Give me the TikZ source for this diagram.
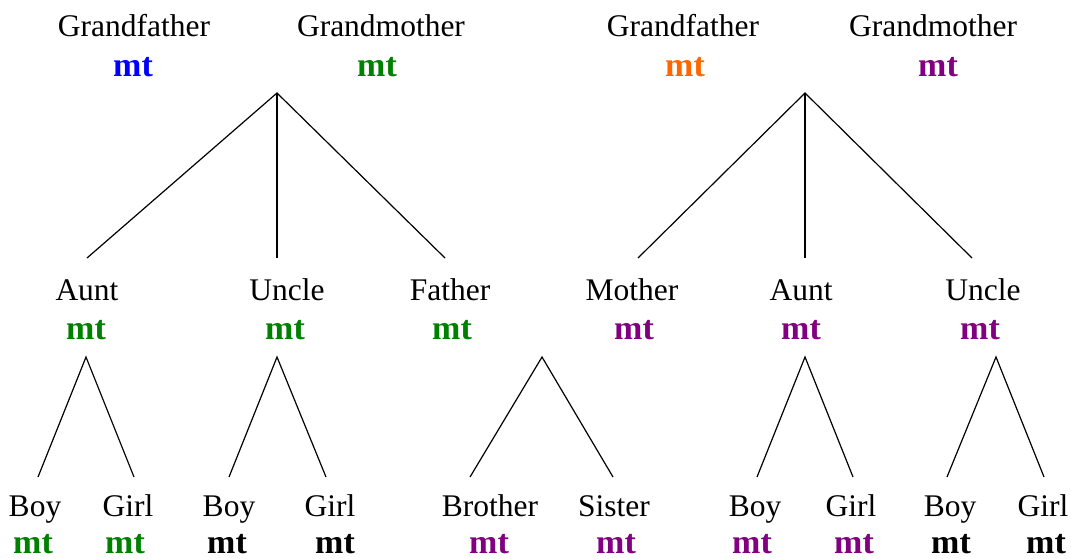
\documentclass[tikz,border=0pt]{standalone}
\usepackage{fontspec}
\setmainfont{Liberation Serif}[BoldFont={Liberation Serif Bold}]
\newfontfamily\mtfont{Liberation Serif Bold}
\definecolor{mtblue}{HTML}{0000FF}
\definecolor{mtgreen}{HTML}{008000}
\definecolor{mtorange}{HTML}{FF6600}
\definecolor{mtpurple}{HTML}{800080}
\begin{document}
\begin{tikzpicture}[x=1pt,y=-1pt,
  person/.style={anchor=base,inner sep=0pt,font=\fontsize{31.5}{36}\selectfont},
  tag/.style={anchor=base,inner sep=0pt,font=\mtfont\fontsize{34}{40}\selectfont},
  link/.style={line width=1.2pt,black}]
\useasboundingbox (0,0) rectangle (1071,558);
% row 1
\node[person] (gf1) at (134,36) {Grandfather};
\node[tag,mtblue] (gf1m) at (133,76) {mt};
\node[person] (gm1) at (381,36) {Grandmother};
\node[tag,mtgreen] (gm1m) at (377,76) {mt};
\node[person] (gf2) at (683,36) {Grandfather};
\node[tag,mtorange] (gf2m) at (685,76) {mt};
\node[person] (gm2) at (933,36) {Grandmother};
\node[tag,mtpurple] (gm2m) at (938,76) {mt};
% row 2
\node[person] (aunt1) at (87,300) {Aunt};
\node[tag,mtgreen] (aunt1m) at (86,339) {mt};
\node[person] (uncle1) at (287,300) {Uncle};
\node[tag,mtgreen] (uncle1m) at (285,339) {mt};
\node[person] (father) at (450,300) {Father};
\node[tag,mtgreen] (fatherm) at (452,339) {mt};
\node[person] (mother) at (632,300) {Mother};
\node[tag,mtpurple] (motherm) at (634,339) {mt};
\node[person] (aunt2) at (801,300) {Aunt};
\node[tag,mtpurple] (aunt2m) at (801,339) {mt};
\node[person] (uncle2) at (983,300) {Uncle};
\node[tag,mtpurple] (uncle2m) at (980,339) {mt};
% row 3
\node[person] (boy1) at (35,516) {Boy};
\node[tag,mtgreen] (boy1m) at (33,553) {mt};
\node[person] (girl1) at (128,516) {Girl};
\node[tag,mtgreen] (girl1m) at (125,553) {mt};
\node[person] (boy2) at (229,516) {Boy};
\node[tag,black] (boy2m) at (227,553) {mt};
\node[person] (girl2) at (330,516) {Girl};
\node[tag,black] (girl2m) at (335,553) {mt};
\node[person] (brother) at (490,516) {Brother};
\node[tag,mtpurple] (brotherm) at (489,553) {mt};
\node[person] (sister) at (614,516) {Sister};
\node[tag,mtpurple] (sisterm) at (616,553) {mt};
\node[person] (boy3) at (755,516) {Boy};
\node[tag,mtpurple] (boy3m) at (752,553) {mt};
\node[person] (girl3) at (851,516) {Girl};
\node[tag,mtpurple] (girl3m) at (854,553) {mt};
\node[person] (boy4) at (950,516) {Boy};
\node[tag,black] (boy4m) at (951,553) {mt};
\node[person] (girl4) at (1043,516) {Girl};
\node[tag,black] (girl4m) at (1046,553) {mt};
% connector points
\coordinate (apexL) at (277,93);
\coordinate (apexR) at (805,93);
\coordinate (aunt1top) at (87,258);
\coordinate (uncle1top) at (277,258);
\coordinate (fathertop) at (445,258);
\coordinate (mothertop) at (638,258);
\coordinate (aunt2top) at (805,258);
\coordinate (uncle2top) at (972,258);
\coordinate (aunt1apex) at (86,357);
\coordinate (uncle1apex) at (277,357);
\coordinate (famapex) at (542,357);
\coordinate (aunt2apex) at (805,357);
\coordinate (uncle2apex) at (996,357);
\coordinate (boy1top) at (38,477);
\coordinate (girl1top) at (134,477);
\coordinate (boy2top) at (229,477);
\coordinate (girl2top) at (326,477);
\coordinate (brothertop) at (470,477);
\coordinate (sistertop) at (613,477);
\coordinate (boy3top) at (757,477);
\coordinate (girl3top) at (853,477);
\coordinate (boy4top) at (947,477);
\coordinate (girl4top) at (1044,477);
% connectors
\draw[link] (aunt1top) -- (apexL) -- (fathertop);
\draw[link] (apexL) -- (uncle1top);
\draw[link] (mothertop) -- (apexR) -- (uncle2top);
\draw[link] (apexR) -- (aunt2top);
\draw[link] (boy1top) -- (aunt1apex) -- (girl1top);
\draw[link] (boy2top) -- (uncle1apex) -- (girl2top);
\draw[link] (brothertop) -- (famapex) -- (sistertop);
\draw[link] (boy3top) -- (aunt2apex) -- (girl3top);
\draw[link] (boy4top) -- (uncle2apex) -- (girl4top);
\end{tikzpicture}
\end{document}
